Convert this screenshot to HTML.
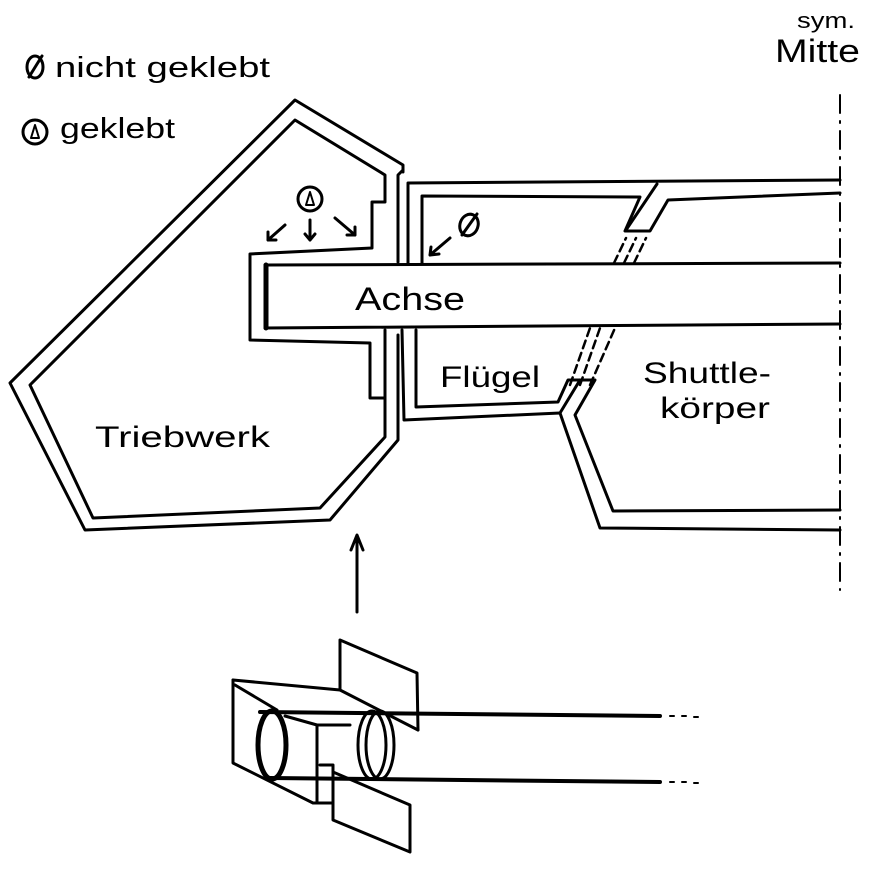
<!DOCTYPE html>
<html><head><meta charset="utf-8"><style>
html,body{margin:0;padding:0;background:#fff;width:885px;height:870px;overflow:hidden}
svg{display:block}
text{font-family:"Liberation Sans",sans-serif;fill:#000}
</style></head><body>
<svg width="885" height="870" viewBox="0 0 885 870" xmlns="http://www.w3.org/2000/svg">
<g fill="none" stroke="#000" stroke-width="3" stroke-linejoin="round" stroke-linecap="round">
<polyline points="403,172 403,165 295,100 10,383 85,530 330,520 398,440 398,335"/>
<polyline points="398,262 398,175 403,170"/>
<polyline points="385,202 385,175 295,120 30,385 93,518 320,508 385,437 385,398 370,398 370,343 250,340 250,254 372,248 372,202 385,202"/>
<line x1="385" y1="398" x2="385" y2="330"/>
<polyline points="840,263 265,265 265,328 840,324"/>
<line x1="266" y1="265" x2="266" y2="328" stroke-width="5"/>
<polyline points="408,263 408,183 840,180"/>
<polyline points="422,263 422,196 640,197 625,231 650,231 668,200 840,193"/>
<line x1="626" y1="230" x2="657" y2="184"/>
<g stroke-width="2.5" stroke-dasharray="8,5">
<line x1="614" y1="263" x2="626" y2="238"/><line x1="624" y1="263" x2="636" y2="238"/><line x1="634" y1="263" x2="646" y2="238"/>
<line x1="570" y1="385" x2="590" y2="328"/><line x1="580" y1="385" x2="600" y2="328"/><line x1="590" y1="385" x2="615" y2="328"/>
</g>
<polyline points="402,330 404,420 560,413 600,528 840,530"/>
<polyline points="416,330 416,407 558,402 568,380 595,380 575,415 613,511 840,510"/>
<line x1="560" y1="413" x2="580" y2="380"/>
<line x1="840" y1="95" x2="840" y2="590" stroke-width="2" stroke-dasharray="18,8,2,8"/>
<path d="M285,225 L268,240 M268,240 l0,-8 M268,240 l8,0"/>
<path d="M310,220 L310,240 M310,240 l-5,-6 M310,240 l5,-6"/>
<path d="M335,218 L355,235 M355,235 l-8,0 M355,235 l0,-8"/>
<circle cx="310" cy="199" r="12"/>
<path d="M310,192 L306,205 L314,205 Z" stroke-width="2"/>
<path d="M450,238 L430,255 M430,255 l9,-1 M430,255 l1,-8"/>
<ellipse cx="469" cy="225" rx="9" ry="11" transform="rotate(20 469 225)"/>
<line x1="462" y1="235" x2="477" y2="214"/>
<ellipse cx="35" cy="67" rx="8" ry="11"/><line x1="29" y1="77" x2="42" y2="56"/>
<circle cx="35" cy="132" r="12"/><path d="M35,125 L31,138 L39,138 Z" stroke-width="2"/>
<line x1="357" y1="612" x2="357" y2="537"/>
<path d="M351,550 L357,535 L363,550"/>
<polyline points="233,680 340,690 418,730"/>
<polyline points="235,685 277,710"/>
<polyline points="233,680 233,763 313,803 333,803"/>
<polyline points="340,690 340,640 417,673 418,730"/>
<polyline points="317,725 317,803"/>
<polyline points="320,765 333,765 333,820 410,852 410,805 333,772"/>
<line x1="260" y1="712" x2="660" y2="716" stroke-width="4"/>
<line x1="270" y1="778" x2="660" y2="782" stroke-width="4"/>
<line x1="285" y1="716" x2="317" y2="725"/>
<line x1="317" y1="725" x2="350" y2="725"/>
<ellipse cx="272" cy="745" rx="14" ry="34" stroke-width="5"/>
<ellipse cx="372" cy="745" rx="14" ry="34"/>
<ellipse cx="380" cy="745" rx="14" ry="34"/>
<g stroke-width="2"><line x1="670" y1="716" x2="674" y2="716"/><line x1="682" y1="716" x2="686" y2="716"/><line x1="694" y1="717" x2="698" y2="717"/>
<line x1="670" y1="782" x2="674" y2="782"/><line x1="682" y1="782" x2="686" y2="782"/><line x1="694" y1="783" x2="698" y2="783"/></g>
</g>
<text x="55" y="77" font-size="29" textLength="215" lengthAdjust="spacingAndGlyphs">nicht geklebt</text>
<text x="60" y="138" font-size="29" textLength="115" lengthAdjust="spacingAndGlyphs">geklebt</text>
<text x="797" y="28" font-size="22" textLength="58" lengthAdjust="spacingAndGlyphs">sym.</text>
<text x="775" y="62" font-size="32" textLength="85" lengthAdjust="spacingAndGlyphs">Mitte</text>
<text x="355" y="310" font-size="32" textLength="110" lengthAdjust="spacingAndGlyphs">Achse</text>
<text x="95" y="447" font-size="30" textLength="175" lengthAdjust="spacingAndGlyphs">Triebwerk</text>
<text x="440" y="387" font-size="30" textLength="100" lengthAdjust="spacingAndGlyphs">Flügel</text>
<text x="643" y="383" font-size="30" textLength="128" lengthAdjust="spacingAndGlyphs">Shuttle-</text>
<text x="660" y="418" font-size="30" textLength="110" lengthAdjust="spacingAndGlyphs">körper</text>
</svg>
</body></html>
